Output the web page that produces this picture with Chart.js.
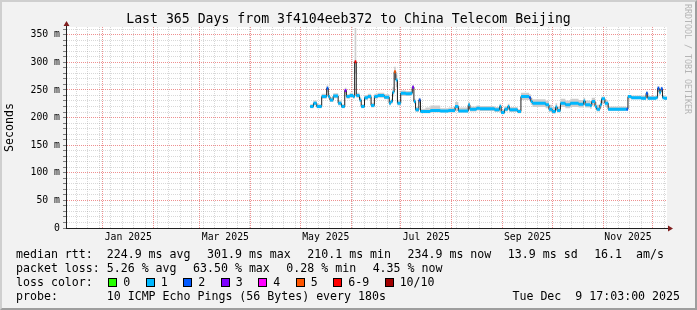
<!DOCTYPE html>
<html lang="en">
<head>
<meta charset="UTF-8">
<script src="https://cdn.jsdelivr.net/npm/chart.js"></script>
<title>Last 365 Days - China Telecom Beijing</title>
<style>
  body { margin: 0; background: #fff; }
  #wrap { position: relative; width: 697px; height: 310px; font-family: "DejaVu Sans Mono", monospace; color: #000; }
  #wrap canvas { position: absolute; left: 0; top: 0; }
  .frame { position: absolute; left: 0; top: 0; width: 697px; height: 310px; box-sizing: border-box;
    border: 2px solid; border-color: #cfcfcf #9e9e9e #9e9e9e #cfcfcf; pointer-events: none; }
  .title { position: absolute; left: 0; top: 11px; width: 697px; text-align: center; font-size: 13.2px; line-height: 16px; white-space: pre; }
  .mark { position: absolute; left: 682px; top: 4px; font-size: 8.3px; line-height: 12px; color: #b5b5b5; writing-mode: vertical-rl; white-space: pre; }
  .row { position: absolute; left: 16px; height: 14px; line-height: 14px; font-size: 11.6px; display: flex; align-items: center; white-space: pre; gap: 16.5px; }
  .row.loss { gap: 15.5px; }
  .row span { display: flex; align-items: center; }
  .sw { display: inline-block; width: 9px; height: 9px; box-sizing: border-box; border: 1px solid #000; margin-right: 6px; }
  .date { position: absolute; right: 17px; top: 289px; height: 14px; line-height: 14px; font-size: 11.6px; white-space: pre; }
</style>
</head>
<body>
<div id="wrap">
  <canvas id="smoke" width="697" height="310"></canvas>
  <div class="title">Last 365 Days from 3f4104eeb372 to China Telecom Beijing</div>
  <div class="mark">RRDTOOL / TOBI OETIKER</div>
  <div class="row" id="rttRow" style="top:247px"></div>
  <div class="row" id="lossRow" style="top:261px"></div>
  <div class="row loss" id="colorRow" style="top:275px"></div>
  <div class="row" style="top:289px">probe:       10 ICMP Echo Pings (56 Bytes) every 180s</div>
  <div class="date">Tue Dec  9 17:03:00 2025</div>
  <div class="frame"></div>
</div>
<script>
// graph window: 365 days ending Tue Dec 9 17:03:00 2025
const startTime = Date.parse('2024-12-09T17:03:00Z');
const spanDays = 365;

// median rtt steps (each value holds until the next date)
const stepDates = [
  '2025-05-07','2025-05-09','2025-05-11','2025-05-14','2025-05-17','2025-05-18','2025-05-19','2025-05-21','2025-05-24','2025-05-26',
  '2025-05-28','2025-05-29','2025-05-31','2025-06-02','2025-06-03','2025-06-04','2025-06-06','2025-06-07','2025-06-09','2025-06-11',
  '2025-06-13','2025-06-15','2025-06-17','2025-06-21','2025-06-24','2025-06-25','2025-06-26','2025-06-27','2025-06-28','2025-06-29',
  '2025-07-01','2025-07-04','2025-07-07','2025-07-08','2025-07-09','2025-07-10','2025-07-12','2025-07-13','2025-07-16','2025-07-19',
  '2025-07-25','2025-07-30','2025-08-03','2025-08-05','2025-08-11','2025-08-12','2025-08-16','2025-08-18','2025-08-24','2025-08-27',
  '2025-08-30','2025-08-31','2025-09-02','2025-09-04','2025-09-05','2025-09-10','2025-09-12','2025-09-17','2025-09-18','2025-09-19',
  '2025-09-27','2025-09-29','2025-10-01','2025-10-03','2025-10-04','2025-10-06','2025-10-09','2025-10-12','2025-10-17','2025-10-20',
  '2025-10-21','2025-10-24','2025-10-25','2025-10-27','2025-10-28','2025-10-30','2025-10-31','2025-11-02','2025-11-04','2025-11-15',
  '2025-11-16','2025-11-18','2025-11-24','2025-11-27','2025-11-28','2025-12-03','2025-12-04','2025-12-05','2025-12-06','2025-12-07',
  '2025-12-08'
];
const medianRtt = [
  220,226,220,238,253,238,232,239,226,220,
  249,238,240,238,301,240,232,220,236,238,
  222,238,240,237,226,229,246,283,268,226,
  244,243,244,255,229,214,232,211,211,213,
  212,213,220,212,223,215,217,216,216,214,
  220,209,215,220,214,211,238,236,229,226,
  223,215,211,219,213,226,223,226,224,230,
  223,222,229,220,215,223,234,226,215,215,
  238,236,235,244,235,236,253,246,252,236,
  235
];
// lost pings out of 10
const lostPings = [
  1,1,1,1,2,1,1,1,1,1,
  3,1,1,1,7,1,1,1,1,1,
  1,1,1,1,1,1,1,5,1,1,
  1,1,1,3,1,1,2,1,1,1,
  1,1,1,1,1,1,1,1,1,1,
  1,1,1,1,1,1,1,2,1,1,
  1,1,1,1,1,1,1,1,1,1,
  1,1,1,1,1,1,1,1,1,2,
  1,1,1,2,1,1,2,1,2,1,
  1
];
const smokeLow = [
  217,222,217,234,246,234,228,235,222,217,
  243,234,236,234,280,236,228,217,232,234,
  218,234,236,233,222,225,238,268,255,222,
  239,239,240,248,225,210,226,208,208,209,
  209,209,212,209,214,211,213,212,212,210,
  213,206,211,214,210,208,232,230,223,219,
  217,210,207,213,209,219,217,219,218,222,
  218,216,222,215,211,217,226,219,212,212,
  234,233,232,238,232,233,246,241,246,233,
  232
];
const smokeHigh = [
  224,231,224,243,258,242,237,244,231,224,
  254,242,245,243,362,245,237,224,241,243,
  227,243,245,242,231,234,255,292,278,232,
  249,248,249,259,234,219,236,216,218,222,
  217,218,228,218,228,220,222,221,221,219,
  225,214,220,225,219,215,245,242,236,233,
  231,223,219,226,220,234,231,234,232,236,
  231,230,236,228,223,231,238,232,220,219,
  241,240,240,247,239,240,257,251,256,240,
  238
];

const yMax = 364;
const yGridStep = 10;
const yLabelStep = 50;
const xLabels = ['Jan 2025', 'Mar 2025', 'May 2025', 'Jul 2025', 'Sep 2025', 'Nov 2025'];
const xLabelMonths = [0, 2, 4, 6, 8, 10];

const lossLabels = ['0', '1', '2', '3', '4', '5', '6-9', '10/10'];
const lossColors = ['#26ff00', '#00b8ff', '#0059ff', '#7e00ff', '#ff00ff', '#ff5500', '#ff0000', '#a10000'];
const rttStats = ['median rtt:  224.9 ms avg', '301.9 ms max', '210.1 ms min', '234.9 ms now', '13.9 ms sd', '16.1  am/s'];
const lossStats = ['packet loss: 5.26 % avg', '63.50 % max', '0.28 % min', '4.35 % now'];

// legend rows
function fillRow(id, items) {
  var row = document.getElementById(id);
  items.forEach(function (t) {
    var s = document.createElement('span');
    s.textContent = t;
    row.appendChild(s);
  });
}
fillRow('rttRow', rttStats);
fillRow('lossRow', lossStats);
var colorRow = document.getElementById('colorRow');
colorRow.innerHTML = '<span>loss color:</span>';
lossLabels.forEach(function (t, i) {
  colorRow.innerHTML += '<span><i class="sw" style="background:' + lossColors[i] + '"></i>' + t + '</span>';
});

function dayOf(t) { return (t - startTime) / 864e5; }
function dayOfDate(s) { return dayOf(Date.parse(s + 'T00:00:00Z')); }
function bucket(lost) { return lost <= 5 ? lost : (lost < 10 ? 6 : 7); }

const xs = stepDates.map(dayOfDate);
const ends = xs.slice(1).concat([spanDays]);

function steps(arr) {
  return xs.map(function (x, i) { return { x: x, y: arr[i] }; })
    .concat([{ x: spanDays, y: arr[arr.length - 1] }]);
}

// x axis ticks: weekly minor lines, monthly major lines, mid-month labels
function xTicks() {
  var ticks = [];
  var monthStarts = [];
  for (var m = 0; m < 12; m++) monthStarts.push(Date.UTC(2025, m, 1));
  monthStarts.forEach(function (t) { ticks.push({ value: dayOf(t), kind: 'month' }); });
  for (var t = Date.UTC(2024, 11, 16); dayOf(t) < spanDays; t += 7 * 864e5) {
    if (monthStarts.indexOf(t) < 0) ticks.push({ value: dayOf(t), kind: 'week' });
  }
  xLabelMonths.forEach(function (m, i) {
    var mid = (Date.UTC(2025, m, 1) + Date.UTC(2025, m + 1, 1)) / 2;
    ticks.push({ value: dayOf(mid), kind: 'label', text: xLabels[i] });
  });
  return ticks.sort(function (a, b) { return a.value - b.value; });
}

// one thick line per loss colour, made of the horizontal parts of the steps
var lossSets = [];
lossColors.forEach(function (c, b) {
  var data = [];
  medianRtt.forEach(function (v, i) {
    if (bucket(lostPings[i]) !== b) return;
    data.push({ x: xs[i], y: v }, { x: ends[i], y: v }, { x: ends[i], y: null });
  });
  if (data.length) lossSets.push({
    label: 'loss ' + lossLabels[b], data: data, borderColor: c, borderWidth: 3,
    borderCapStyle: 'butt', pointRadius: 0, spanGaps: false, order: 1
  });
});

const rrdLook = {
  id: 'rrdLook',
  beforeDraw: function (chart) {
    var ctx = chart.ctx, a = chart.chartArea;
    ctx.save();
    ctx.fillStyle = '#f2f2f2';
    ctx.fillRect(0, 0, chart.width, chart.height);
    ctx.fillStyle = '#ffffff';
    ctx.fillRect(a.left, a.top, a.right - a.left, a.bottom - a.top);
    ctx.restore();
  },
  afterDraw: function (chart) {
    var ctx = chart.ctx, a = chart.chartArea;
    var x = Math.round(a.left) + 0.5, y = Math.round(a.bottom) + 0.5;
    ctx.save();
    ctx.strokeStyle = '#1f1f1f';
    ctx.lineWidth = 1;
    ctx.beginPath();
    ctx.moveTo(x, a.top); ctx.lineTo(x, a.top - 3);
    ctx.moveTo(a.right, y); ctx.lineTo(a.right + 3, y);
    ctx.stroke();
    ctx.fillStyle = '#801f1f';
    ctx.beginPath();
    ctx.moveTo(x - 3, a.top - 1); ctx.lineTo(x + 3, a.top - 1); ctx.lineTo(x, a.top - 6); ctx.closePath();
    ctx.moveTo(a.right + 1, y - 3); ctx.lineTo(a.right + 1, y + 3); ctx.lineTo(a.right + 6, y); ctx.closePath();
    ctx.fill();
    ctx.restore();
  }
};

Chart.defaults.font.family = '"DejaVu Sans Mono", monospace';
Chart.defaults.color = '#000';

new Chart(document.getElementById('smoke'), {
  type: 'line',
  data: {
    datasets: [
      { label: 'smoke high', data: steps(smokeHigh), stepped: 'before', borderWidth: 0, borderColor: 'transparent',
        pointRadius: 0, fill: '+1', backgroundColor: '#cdcdcd', order: 3 },
      { label: 'smoke low', data: steps(smokeLow), stepped: 'before', borderWidth: 0, borderColor: 'transparent',
        pointRadius: 0, fill: false, order: 3 },
      { label: 'median rtt', data: steps(medianRtt), stepped: 'before', borderColor: '#1f1f1f', borderWidth: 1,
        pointRadius: 0, fill: false, order: 2 }
    ].concat(lossSets)
  },
  options: {
    responsive: false,
    devicePixelRatio: 1,
    animation: false,
    events: [],
    layout: { padding: { top: 27, right: 30, bottom: 62, left: 0 } },
    plugins: { legend: { display: false }, tooltip: { enabled: false } },
    scales: {
      x: {
        type: 'linear', min: 0, max: spanDays,
        afterBuildTicks: function (scale) { scale.ticks = xTicks(); },
        afterFit: function (scale) { scale.height = 20; },
        ticks: {
          autoSkip: false, maxRotation: 0, padding: 4, font: { size: 9.8 },
          callback: function (v, i, ticks) { return ticks[i].kind === 'label' ? ticks[i].text : ''; }
        },
        grid: {
          drawTicks: false, lineWidth: 1,
          color: function (c) {
            if (!c.tick || c.tick.kind === 'label') return 'rgba(0,0,0,0)';
            return c.tick.kind === 'month' ? 'rgba(226,70,70,0.6)' : 'rgba(143,143,143,0.35)';
          }
        },
        border: { display: true, color: '#1f1f1f', width: 1, dash: [1, 1] }
      },
      y: {
        type: 'linear', min: 0, max: yMax,
        afterBuildTicks: function (scale) {
          var t = [];
          for (var v = 0; v <= yMax; v += yGridStep) t.push({ value: v });
          scale.ticks = t;
        },
        afterFit: function (scale) { scale.width = 66; },
        ticks: {
          autoSkip: false, padding: 3, font: { size: 9.8 },
          callback: function (v) { return v % yLabelStep ? '' : (v === 0 ? '0' : v + ' m'); }
        },
        grid: {
          drawTicks: true, tickLength: 3, lineWidth: 1, tickColor: 'rgba(31,31,31,0.55)',
          color: function (c) {
            if (!c.tick) return 'rgba(0,0,0,0)';
            return c.tick.value % yLabelStep === 0 ? 'rgba(226,70,70,0.6)' : 'rgba(143,143,143,0.35)';
          }
        },
        border: { display: true, color: '#1f1f1f', width: 1, dash: [1, 1] },
        title: { display: true, text: 'Seconds', font: { size: 11.6 }, padding: { top: 3, bottom: 0 } }
      }
    }
  },
  plugins: [rrdLook]
});
</script>
</body>
</html>
